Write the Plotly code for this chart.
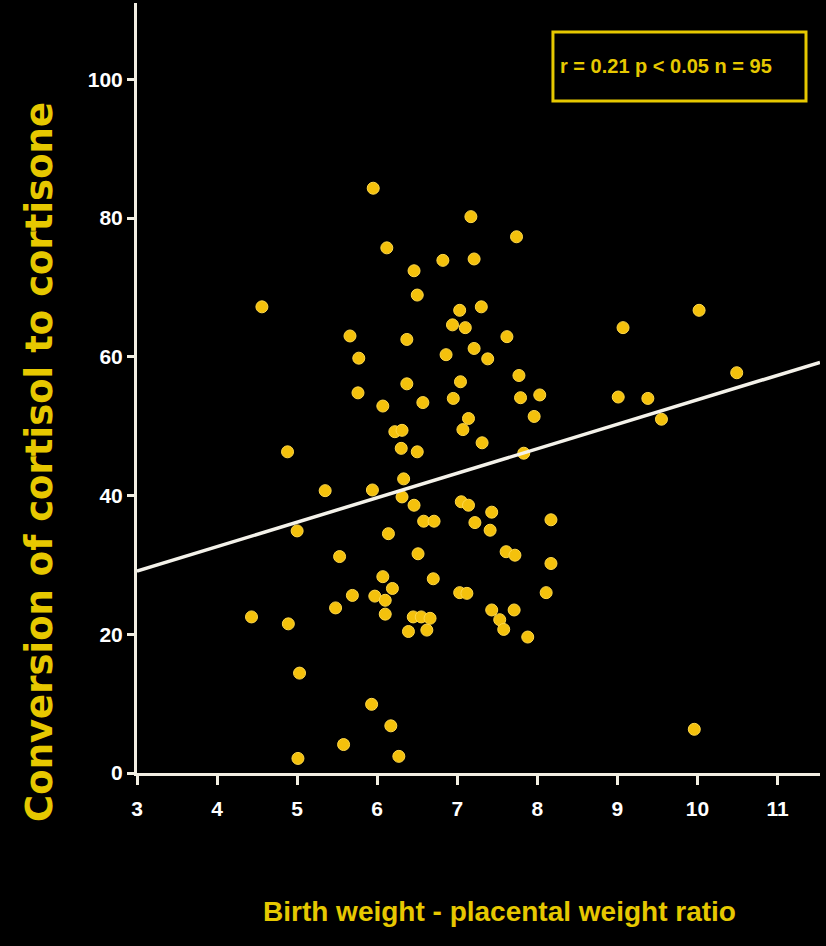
import plotly.graph_objects as go

# Data
bw_ratio = [4.43, 4.56, 4.88, 4.89, 5.00, 5.03, 5.01, 5.35, 5.48, 5.53,
            5.58, 5.66, 5.69, 5.76, 5.77, 5.95, 5.93, 5.94, 5.97, 6.07,
            6.12, 6.07, 6.10, 6.10, 6.14, 6.17, 6.19, 6.22, 6.31, 6.30,
            6.27, 6.33, 6.31, 6.37, 6.37, 6.39, 6.45, 6.46, 6.46, 6.50,
            6.50, 6.51, 6.55, 6.57, 6.58, 6.62, 6.66, 6.70, 6.71, 6.82,
            6.86, 6.94, 6.95, 7.03, 7.04, 7.03, 7.05, 7.07, 7.10, 7.12,
            7.14, 7.14, 7.17, 7.21, 7.21, 7.22, 7.30, 7.31, 7.38, 7.41,
            7.43, 7.43, 7.53, 7.58, 7.61, 7.62, 7.71, 7.72, 7.74, 7.77,
            7.79, 7.83, 7.88, 7.96, 8.03, 8.11, 8.17, 8.17, 9.01, 9.07,
            9.38, 9.55, 9.96, 10.02, 10.49]
conversion = [22.5, 67.2, 46.3, 21.5, 34.9, 14.4, 2.1, 40.7, 23.8, 31.2,
              4.1, 63.0, 25.6, 54.8, 59.8, 84.3, 9.9, 40.8, 25.5, 52.9,
              75.7, 28.3, 24.9, 22.9, 34.5, 6.8, 26.6, 49.2, 49.4, 46.8,
              2.4, 42.4, 39.8, 62.5, 56.1, 20.4, 22.5, 72.4, 38.6, 68.9,
              46.3, 31.6, 22.5, 53.4, 36.3, 20.6, 22.3, 28.0, 36.3, 73.9,
              60.3, 64.6, 54.0, 66.7, 56.4, 26.0, 39.1, 49.5, 64.2, 25.9,
              51.1, 38.6, 80.2, 74.1, 61.2, 36.1, 67.2, 47.6, 59.7, 35.0,
              37.6, 23.5, 22.1, 20.7, 31.9, 62.9, 23.5, 31.4, 77.3, 57.3,
              54.1, 46.1, 19.6, 51.4, 54.5, 26.0, 36.5, 30.2, 54.2, 64.2,
              54.0, 51.0, 6.3, 66.7, 57.7]

fit_x = [3.0, 11.53]
fit_y = [29.1, 59.2]

x_ticks = [3, 4, 5, 6, 7, 8, 9, 10, 11]
y_ticks = [0, 20, 40, 60, 80, 100]

stats_text = "r = 0.21 p < 0.05 n = 95"
x_title = "Birth weight - placental weight ratio"
y_title = "Conversion of cortisol to cortisone"

YELLOW_TXT = "#E6C800"
MARKER = "#F4C10C"
AXIS = "#F2EEE2"
SANS = "Liberation Sans, Arial, sans-serif"

fig = go.Figure()
fig.add_trace(go.Scatter(
    x=bw_ratio, y=conversion, mode="markers",
    marker=dict(size=12, color=MARKER, line=dict(width=1, color="#FFD84A")),
    hoverinfo="x+y", showlegend=False))
fig.add_trace(go.Scatter(
    x=fit_x, y=fit_y, mode="lines",
    line=dict(color="#F4F2EA", width=3.5), showlegend=False))

fig.update_layout(
    width=826, height=946,
    paper_bgcolor="black", plot_bgcolor="black",
    margin=dict(l=137, r=6, t=3, b=173),
    xaxis=dict(range=[3, 11.53], tickvals=x_ticks, ticks="outside", ticklen=9,
               tickwidth=2.5, tickcolor=AXIS, showline=True, linecolor=AXIS,
               linewidth=3, showgrid=False, zeroline=False,
               tickfont=dict(family=SANS, size=21, color="white", weight="bold"),
               ticklabelstandoff=6),
    yaxis=dict(range=[0, 111], tickvals=y_ticks, ticks="outside", ticklen=7,
               tickwidth=2.5, tickcolor=AXIS, showline=True, linecolor=AXIS,
               linewidth=3, showgrid=False, zeroline=False,
               tickfont=dict(family=SANS, size=21, color="white", weight="bold")),
    shapes=[dict(type="rect", xref="paper", yref="paper",
                 x0=0.609, x1=0.9795, y0=0.8727, y1=0.9623,
                 line=dict(color=YELLOW_TXT, width=3))],
    annotations=[
        dict(text=stats_text, xref="paper", yref="paper", x=0.7745, y=0.918,
             showarrow=False, xanchor="center", yanchor="middle",
             font=dict(family=SANS, size=20, color=YELLOW_TXT, weight="bold")),
        dict(text=x_title, xref="paper", yref="paper", x=0.531, y=-0.1805,
             showarrow=False, xanchor="center", yanchor="middle",
             font=dict(family=SANS, size=28, color=YELLOW_TXT, weight="bold")),
        dict(text=y_title, xref="paper", yref="paper", x=-0.142, y=0.404,
             showarrow=False, xanchor="center", yanchor="middle", textangle=-90,
             font=dict(family="DejaVu Sans", size=37, color=YELLOW_TXT, weight="bold")),
    ],
)

fig.write_html("out.html",
               config={"displayModeBar": False},
               post_script="document.body.style.margin='0';"
                           "document.body.style.background='black';")
